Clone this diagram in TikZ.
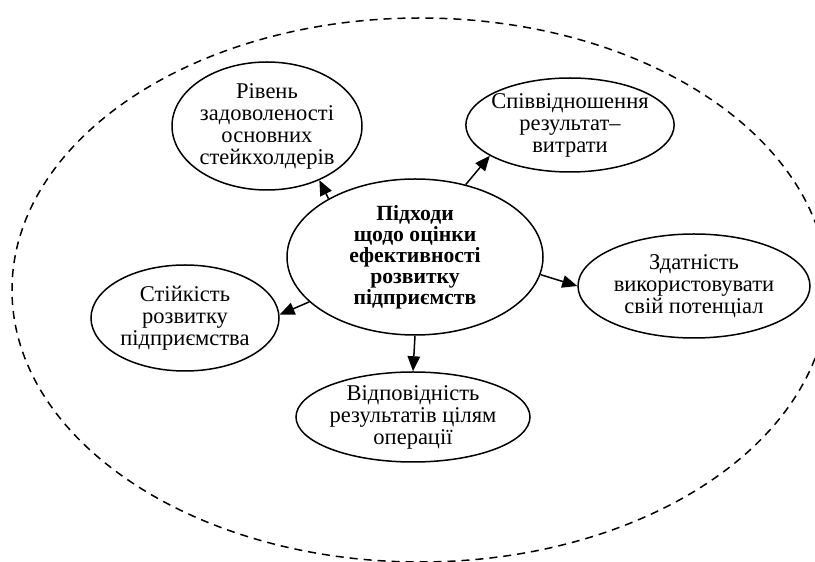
\documentclass[tikz,border=0pt]{standalone}
\usepackage{fontspec}
\setmainfont{Liberation Serif}
\usetikzlibrary{arrows.meta,shapes.geometric}

\begin{document}
\begin{tikzpicture}[x=0.6pt, y=-0.6pt,
                oval/.style={draw, ellipse, line width=0.9pt, inner sep=-3pt, align=center, font=\fontsize{13.5}{13.2}\selectfont},
                link/.style={-{Triangle[length=9pt, width=7.5pt]}, line width=0.9pt}]
                \useasboundingbox (0, 0) rectangle (815, 562);
                \draw[line width=0.9pt, dash pattern=on 4.8pt off 3.6pt] (420, 290) ellipse [x radius=408, y radius=272];

                \node[oval, minimum width=153.6pt, minimum height=93.6pt, font=\fontsize{13}{12.6}\selectfont\bfseries] (core) at (415, 257) {Підходи\\щодо оцінки\\ефективності\\розвитку\\підприємств};
                \node[oval, minimum width=114pt, minimum height=76.8pt] (stake) at (267, 126) {Рівень\\задоволеності\\основних\\стейкхолдерів};
                \node[oval, minimum width=122.4pt, minimum height=56.4pt] (ratio) at (570, 125) {Співвідношення\\результат–\\витрати};
                \node[oval, minimum width=139.2pt, minimum height=62.4pt] (ability) at (694, 286) {Здатність\\використовувати\\свій потенціал};
                \node[oval, minimum width=140.4pt, minimum height=54pt] (goals) at (413, 417) {Відповідність\\результатів цілям\\операції};
                \node[oval, minimum width=112.8pt, minimum height=63.6pt] (stable) at (185, 318) {Стійкість\\розвитку\\підприємства};

                \draw[link] (core.146) -- (stake.-46);
                \draw[link] (core.55) -- (ratio.-159);
                \draw[link] (core.-8) -- (ability.180);
                \draw[link] (core.-90) -- (goals.90);
                \draw[link] (core.203) -- (stable.2);
\end{tikzpicture}
\end{document}
